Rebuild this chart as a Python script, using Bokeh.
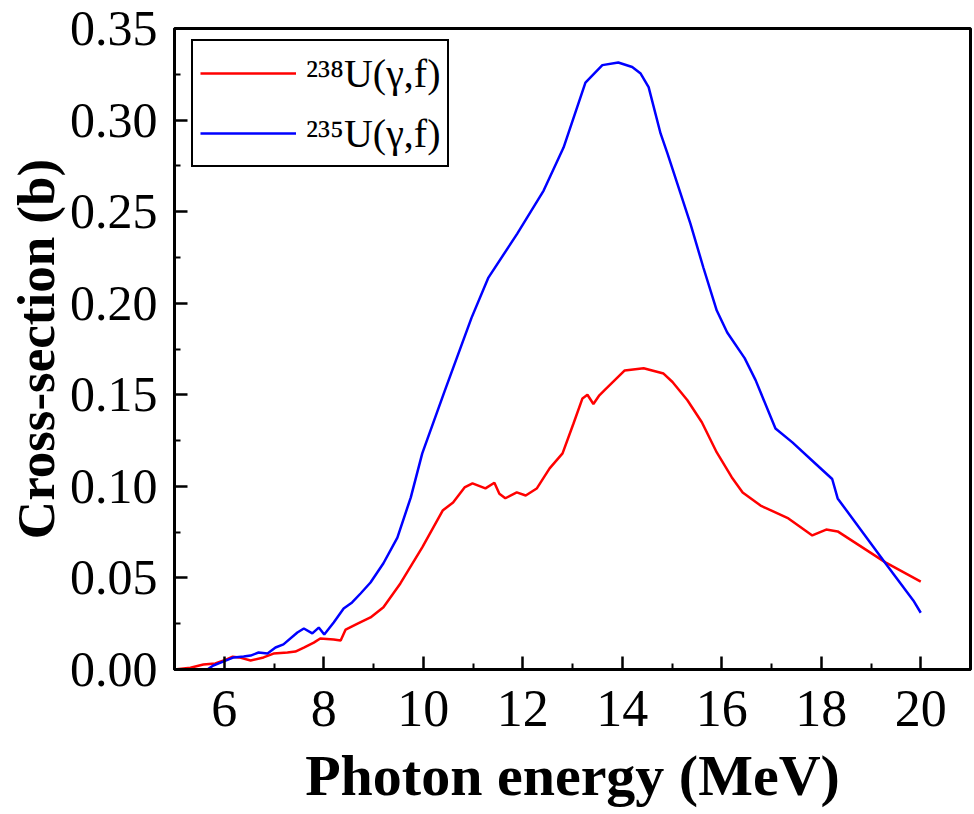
from bokeh.plotting import figure
from bokeh.models import FixedTicker, PrintfTickFormatter, Legend, LegendItem, Range1d
from bokeh.embed import file_html
from bokeh.resources import INLINE

# ---- data ----
u238_energy = [5.0, 5.32, 5.58, 5.82, 5.99, 6.17, 6.3, 6.53, 6.79, 6.99, 7.27, 7.43, 7.6, 7.8, 7.93,
               8.2, 8.34, 8.44, 8.68, 8.94, 9.2, 9.54, 9.98, 10.39, 10.6, 10.83, 10.99, 11.25, 11.43,
               11.53, 11.65, 11.88, 12.06, 12.28, 12.54, 12.8, 13.02, 13.2, 13.3, 13.42, 13.54, 13.64,
               14.05, 14.43, 14.83, 15.01, 15.31, 15.6, 15.9, 16.2, 16.42, 16.78, 17.34, 17.82, 18.1,
               18.33, 19.29, 20.0]
u238_xs = [0.0, 0.001, 0.0027, 0.0033, 0.0049, 0.007, 0.0066, 0.0049, 0.0066, 0.0087, 0.0093, 0.0098,
           0.012, 0.0147, 0.0169, 0.0164, 0.0158, 0.0218, 0.025, 0.0284, 0.034, 0.047, 0.0667, 0.0868,
           0.0912, 0.0994, 0.1016, 0.0989, 0.102, 0.096, 0.0935, 0.0967, 0.095, 0.0988, 0.1098, 0.118,
           0.1343, 0.148, 0.150, 0.145, 0.1497, 0.1524, 0.1633, 0.1645, 0.1616, 0.157, 0.147, 0.135,
           0.1185, 0.105, 0.0967, 0.0895, 0.0825, 0.0732, 0.0764, 0.0754, 0.0585, 0.048]

u235_energy = [5.0, 5.66, 5.78, 5.99, 6.19, 6.39, 6.53, 6.69, 6.87, 7.03, 7.19, 7.47, 7.6, 7.77, 7.9,
               8.01, 8.2, 8.4, 8.57, 8.74, 8.94, 9.2, 9.48, 9.75, 9.98, 10.43, 10.97, 11.31, 11.89,
               12.42, 12.82, 13.26, 13.6, 13.92, 14.2, 14.37, 14.53, 14.77, 14.91, 15.37, 15.63, 15.9,
               16.11, 16.46, 16.68, 17.08, 17.42, 17.88, 18.22, 18.33, 19.29, 19.85, 20.0]
u235_xs = [0.0, 0.0, 0.0022, 0.0044, 0.0066, 0.0071, 0.0076, 0.0093, 0.0087, 0.012, 0.0137, 0.0202,
           0.0224, 0.0197, 0.0229, 0.0191, 0.0257, 0.0333, 0.0366, 0.0415, 0.0475, 0.058, 0.072,
           0.094, 0.118, 0.152, 0.192, 0.214, 0.238, 0.2615, 0.285, 0.3205, 0.330, 0.3314, 0.329,
           0.3254, 0.318, 0.2927, 0.2817, 0.2435, 0.2195, 0.196, 0.184, 0.170, 0.158, 0.1316, 0.124,
           0.1125, 0.104, 0.0934, 0.058, 0.0377, 0.031]

x_major_ticks = [6, 8, 10, 12, 14, 16, 18, 20]
x_minor_ticks = [5, 7, 9, 11, 13, 15, 17, 19, 21]
y_major_ticks = [0.0, 0.05, 0.10, 0.15, 0.20, 0.25, 0.30, 0.35]
y_minor_ticks = [0.025, 0.075, 0.125, 0.175, 0.225, 0.275, 0.325]

series_labels = ["\u00b2\u00b3\u2078U(\u03b3,f)", "\u00b2\u00b3\u2075U(\u03b3,f)"]
series_colors = ["#ff0000", "#0000ff"]

FONT = "Liberation Serif"

p = figure(width=974, height=814, x_range=Range1d(5, 21), y_range=Range1d(0, 0.35),
           output_backend="svg", toolbar_location=None,
           min_border_left=174, min_border_right=4, min_border_top=28, min_border_bottom=145)
p.title.visible = False
p.xgrid.visible = False
p.ygrid.visible = False
p.outline_line_color = "black"
p.outline_line_width = 3
p.outline_line_alpha = 1
p.background_fill_color = "white"
p.border_fill_color = "white"

r1 = p.line(u238_energy, u238_xs, line_color=series_colors[0], line_width=2.5)
r2 = p.line(u235_energy, u235_xs, line_color=series_colors[1], line_width=2.5)

xa = p.xaxis[0]
xa.ticker = FixedTicker(ticks=x_major_ticks, minor_ticks=x_minor_ticks)
ya = p.yaxis[0]
ya.ticker = FixedTicker(ticks=y_major_ticks, minor_ticks=y_minor_ticks)
ya.formatter = PrintfTickFormatter(format="%.2f")

for ax in (xa, ya):
    ax.axis_line_width = 3
    ax.axis_line_color = "black"
    ax.major_tick_in = 13
    ax.major_tick_out = 0
    ax.minor_tick_in = 6
    ax.minor_tick_out = 0
    ax.major_tick_line_width = 2.5
    ax.minor_tick_line_width = 2
    ax.major_label_text_font = FONT
    ax.major_label_text_color = "black"
    ax.axis_label_text_font = FONT
    ax.axis_label_text_font_style = "bold"
    ax.axis_label_text_color = "black"

xa.axis_label = "Photon energy (MeV)"
xa.major_label_text_font_size = "52px"
xa.axis_label_text_font_size = "58px"
xa.major_label_standoff = 21
xa.axis_label_standoff = 14

ya.axis_label = "Cross-section (b)"
ya.major_label_text_font_size = "50px"
ya.axis_label_text_font_size = "53px"
ya.major_label_standoff = 17
ya.axis_label_standoff = 2

legend = Legend(items=[LegendItem(label=series_labels[0], renderers=[r1]),
                       LegendItem(label=series_labels[1], renderers=[r2])],
                location=(17, 502), margin=0)
legend.border_line_color = "black"
legend.border_line_width = 2.5
legend.border_line_alpha = 1
legend.background_fill_color = "white"
legend.background_fill_alpha = 1
legend.padding = 7
legend.spacing = 10
legend.glyph_width = 96
legend.glyph_height = 50
legend.label_height = 50
legend.label_standoff = 10
legend.label_text_font = FONT
legend.label_text_font_size = "40px"
legend.label_text_color = "black"
legend.label_text_baseline = "middle"
p.add_layout(legend)

with open("out.html", "w") as f:
    f.write(file_html(p, INLINE))
